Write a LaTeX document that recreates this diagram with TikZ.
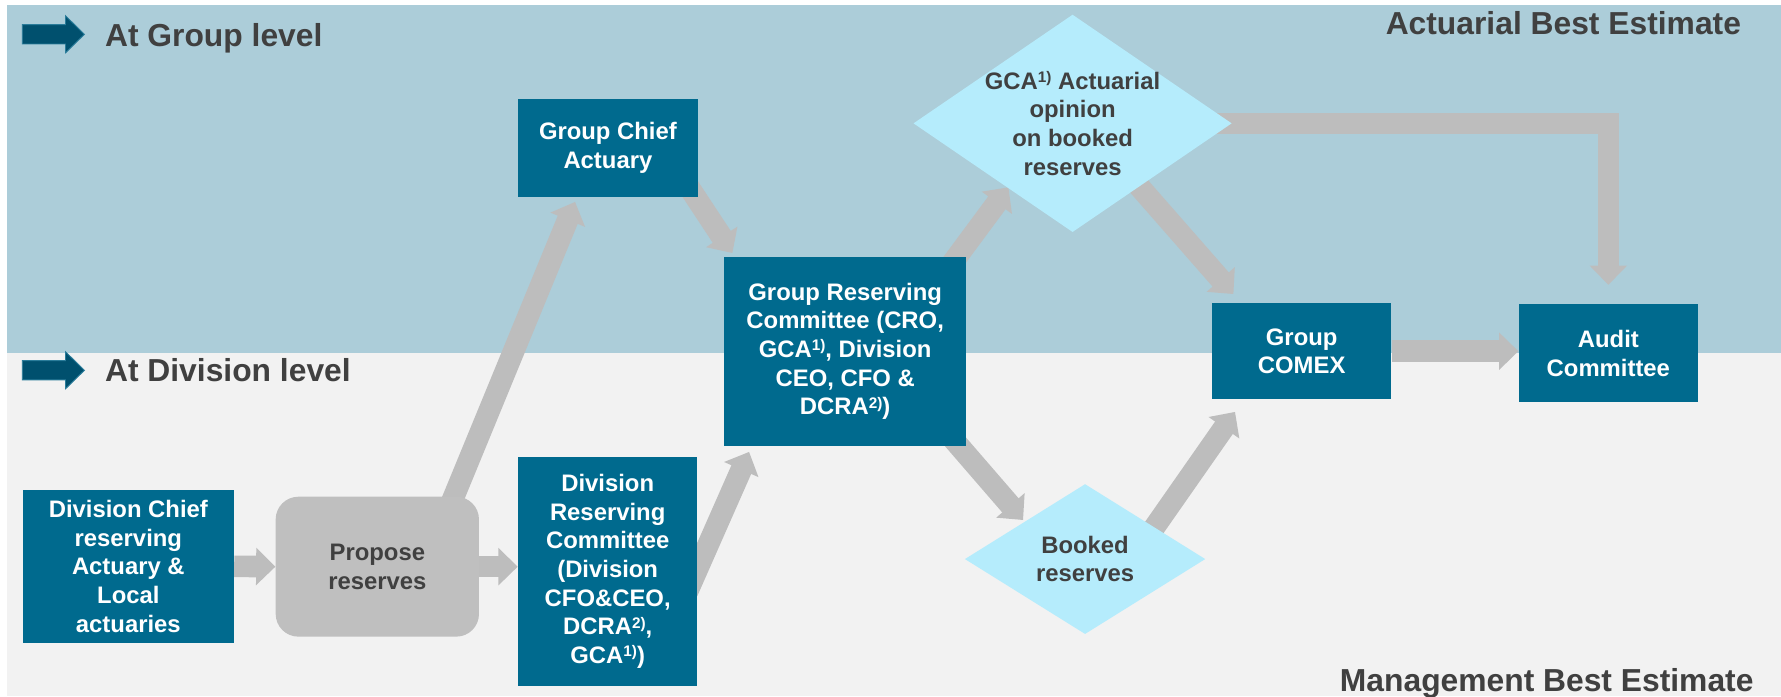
\documentclass[tikz,border=0pt]{standalone}
\usepackage{fontspec}
\setmainfont{Liberation Sans}
\usetikzlibrary{shapes.geometric,arrows.meta,calc}
\definecolor{cteal}{HTML}{006A8E}
\definecolor{bandblue}{HTML}{ACCDD9}
\definecolor{bandgray}{HTML}{F2F2F2}
\definecolor{arrowgray}{HTML}{BDBDBD}
\definecolor{diamcol}{HTML}{B5ECFC}
\definecolor{propgray}{HTML}{BFBFBF}
\definecolor{txtgray}{HTML}{404040}
\definecolor{iconfill}{HTML}{00506E}
\definecolor{iconedge}{HTML}{2A7C9A}
\pgfdeclarelayer{back}
\pgfdeclarelayer{arrowlayer}
\pgfsetlayers{back,arrowlayer,main}
\newcommand\supx[1]{\raisebox{6pt}{\fontsize{13.5}{13.5}\selectfont #1}}
\begin{document}
\begin{tikzpicture}[x=1pt,y=-1pt,
  box/.style={rectangle, fill=cteal, text=white, inner sep=0pt, align=center,
    font=\fontsize{21}{25.3}\selectfont\bfseries},
  pbox/.style={rectangle, rounded corners=20pt, fill=propgray, text=txtgray, inner sep=0pt, align=center,
    font=\fontsize{21}{25.3}\selectfont\bfseries},
  dia/.style={diamond, fill=diamcol, inner sep=0pt},
  dtext/.style={text=txtgray, align=center, inner sep=0pt, font=\fontsize{21}{25.3}\selectfont\bfseries},
  title/.style={text=txtgray, inner sep=0pt, font=\fontsize{28}{31}\selectfont\bfseries},
  flow/.style={draw=arrowgray, line width=19pt, -{Triangle[width=32pt,length=17pt]}}
]
\useasboundingbox (0,0) rectangle (1568,613);
\begin{pgfonlayer}{back}
\fill[white] (0,0) rectangle (1568,613);
\fill[bandblue] (6,4.4) rectangle (1568,311);
\fill[bandgray] (6,311) rectangle (1568,613);
\foreach \cy in {30.2,326}{
  \filldraw[fill=iconfill, draw=iconedge, line width=0.8pt]
    (19.6,\cy-8.5) -- (57.7,\cy-8.5) -- (57.7,\cy-16.3) -- (74.3,\cy)
    -- (57.7,\cy+16.3) -- (57.7,\cy+8.5) -- (19.6,\cy+8.5) -- cycle;
}
\end{pgfonlayer}

\node[title, anchor=base west] (tgroup) at (92.3,41.1) {At Group level};
\node[title, anchor=base west] (tdiv) at (92.3,336) {At Division level};
\node[title, anchor=base east] (tabe) at (1533,30.8) {Actuarial Best Estimate};
\node[title, anchor=base east] (tmbe) at (1544,609) {Management Best Estimate};

\node[box, minimum width=186pt, minimum height=134.4pt] (dca) at (113,498.6)
  {Division Chief\\reserving\\Actuary \&\\Local\\actuaries};
\node[pbox, minimum width=179pt, minimum height=123.2pt] (prop) at (332.2,498.9)
  {Propose\\reserves};
\node[box, minimum width=158pt, minimum height=201.3pt] (drc) at (535,503)
  {Division\\Reserving\\Committee\\(Division\\CFO\&CEO,\\DCRA\supx{2)},\\GCA\supx{1)})};
\node[box, minimum width=158.5pt, minimum height=86.5pt] (gca) at (535.2,130.2)
  {Group Chief\\Actuary};
\node[box, minimum width=213pt, minimum height=166.7pt] (grc) at (744.1,309.3)
  {Group Reserving\\Committee (CRO,\\GCA\supx{1)}, Division\\CEO, CFO \&\\DCRA\supx{2)})};
\node[box, minimum width=158pt, minimum height=84.5pt] (comex) at (1146,309.2)
  {Group\\COMEX};
\node[box, minimum width=158pt, minimum height=86pt] (audit) at (1416,311)
  {Audit\\Committee};
\node[dia, minimum width=280.2pt, minimum height=191.4pt,
  label={[dtext]center:{GCA\supx{1)} Actuarial\\opinion\\on booked\\reserves}}] (opin) at (944.3,108.6) {};
\node[dia, minimum width=211.7pt, minimum height=132pt,
  label={[dtext]center:{Booked\\reserves}}] (booked) at (955.3,492.2) {};

\begin{pgfonlayer}{arrowlayer}
\draw[flow] (dca.east) -- (prop.west);
\draw[flow] (prop.east) -- (prop.east -| drc.west);
\draw[flow] ($(prop.north)+(60,18)$) -- ($(gca.south)+(-28.9,4.1)$);
\draw[flow] ($(gca.south)+(68,-14)$) -- ($(grc.north)+(-99.3,-3)$);
\draw[flow] ($(drc.east)+(-9,18)$) -- ($(grc.south)+(-84.6,5)$);
\draw[flow] ($(grc.north)+(72.4,35.4)$) -- ($(opin.center)+(-56.5,56.3)$);
\draw[flow] ($(grc.center)+(78.1,57.7)$) -- ($(booked.center)+(-54.6,-34.4)$);
\draw[flow] ($(booked.center)+(57.7,-23.2)$) -- ($(comex.south)+(-58.7,11)$);
\draw[flow] ($(opin.center)+(42.9,37.6)$) -- ($(comex.north)+(-60.1,-7.9)$);
\draw[flow, line join=miter] ($(opin.east)+(-30,0)$) -- (opin.east -| audit.north) -- ($(audit.north)+(0,-17)$);
\draw[flow] (comex.east) -- (comex.east -| audit.west);
\end{pgfonlayer}
\end{tikzpicture}
\end{document}
